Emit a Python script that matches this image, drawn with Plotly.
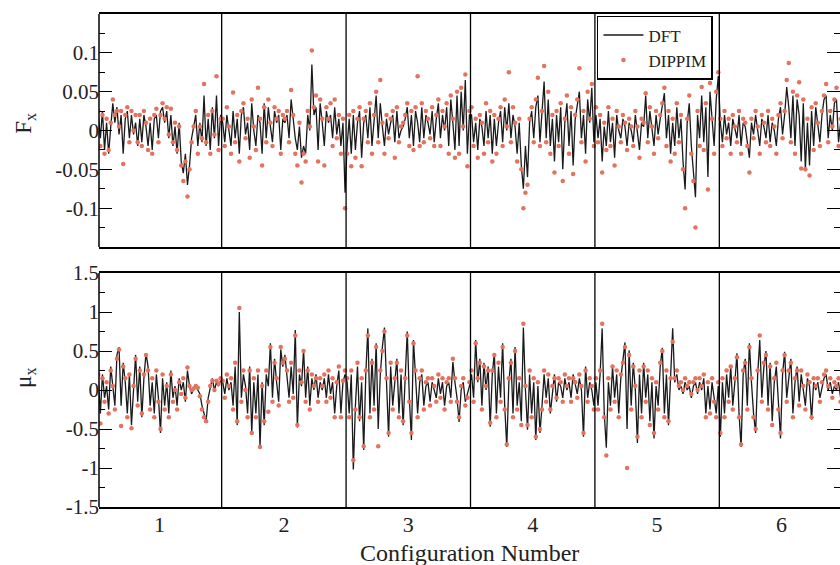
import plotly.graph_objects as go

# ---------------- data ----------------
configs = [1, 2, 3, 4, 5, 6]
config_labels = ["1", "2", "3", "4", "5", "6"]

# F_x : DFT reference forces, one sub-list per configuration
fx_dft = [
    [0.02, -0.01, 0.025, -0.025, 0.01, -0.03, 0.005, 0.035, 0.01, 0.03,
     -0.005, 0.02, -0.03, 0.015, 0.025, -0.01, 0.02, -0.005, 0.01, -0.02,
     0.015, -0.015, 0.02, 0.005, -0.02, 0.01, -0.025, 0.015, 0.02, -0.01,
     0.025, 0.03, 0.01, 0.025, -0.01, 0.02, -0.02, 0.005, -0.03, 0.01,
     -0.04, -0.055, -0.03, -0.07, -0.045, -0.01, 0.005, 0.02, -0.02, 0.01,
     -0.015, 0.045, -0.02, 0.015, -0.025, 0.03, -0.01, 0.045, -0.02, 0.02],
    [0.01, -0.015, 0.02, 0.0, -0.02, 0.025, -0.01, 0.015, -0.03, 0.02,
     0.03, -0.005, 0.01, -0.025, 0.035, 0.0, -0.02, 0.02, 0.01, -0.03,
     0.035, -0.01, 0.03, 0.005, -0.015, 0.025, 0.01, 0.02, -0.025, 0.015,
     0.01, 0.02, -0.01, 0.04, 0.015, -0.01, -0.025, 0.005, -0.035, -0.02,
     -0.03, 0.02, 0.0, 0.085, 0.02, 0.03, -0.025, 0.035, 0.01, -0.02,
     0.025, 0.01, 0.02, -0.01, 0.03, -0.005, 0.015, -0.02, 0.01, -0.08],
    [-0.02, 0.015, -0.03, 0.02, -0.025, 0.01, 0.025, -0.035, 0.01, 0.02,
     -0.01, 0.03, -0.02, 0.015, 0.045, -0.01, 0.035, 0.005, -0.02, 0.015,
     -0.005, 0.01, 0.02, -0.015, 0.025, -0.01, 0.0, 0.005, 0.015, 0.03,
     -0.01, 0.02, -0.02, 0.025, 0.01, -0.015, 0.03, -0.01, 0.02, 0.01,
     -0.005, 0.025, -0.015, 0.015, 0.035, -0.01, 0.02, 0.0, 0.03, -0.02,
     0.04, 0.01, -0.025, 0.045, -0.02, 0.05, 0.0, 0.065, -0.03, 0.02],
    [0.02, -0.015, 0.01, -0.025, 0.015, 0.005, -0.02, 0.025, -0.01, 0.02,
     -0.03, 0.015, -0.02, 0.01, 0.025, -0.015, 0.03, 0.0, 0.035, -0.01,
     0.02, 0.005, -0.03, 0.01, -0.045, -0.075, -0.02, -0.06, 0.01, 0.025,
     -0.01, 0.03, 0.045, -0.015, 0.02, 0.063, -0.01, 0.04, -0.02, 0.015,
     -0.04, 0.02, -0.015, 0.03, -0.05, 0.01, 0.035, -0.02, 0.025, -0.045,
     0.015, 0.03, 0.05, -0.01, 0.02, -0.03, 0.04, 0.01, 0.055, -0.015],
    [0.02, -0.01, 0.015, -0.04, 0.005, -0.02, 0.025, -0.015, 0.01, -0.035,
     0.02, 0.0, -0.01, 0.015, 0.005, -0.02, 0.01, 0.0, -0.015, 0.02,
     0.0, -0.025, 0.01, 0.005, 0.045, -0.01, 0.025, 0.0, -0.02, 0.02,
     -0.005, 0.015, 0.03, 0.048, -0.01, 0.02, -0.03, 0.01, -0.02, 0.03,
     -0.01, 0.015, -0.04, -0.076, 0.01, 0.035, -0.02, -0.05, -0.086, 0.02,
     -0.01, 0.045, -0.015, 0.03, -0.06, 0.05, 0.01, -0.02, 0.04, 0.07],
    [0.01, -0.015, 0.02, -0.005, 0.01, -0.02, 0.015, 0.0, -0.01, 0.02,
     -0.02, 0.01, 0.005, -0.015, -0.035, 0.01, -0.005, 0.02, 0.0, -0.02,
     0.015, 0.005, -0.01, 0.02, -0.015, 0.01, 0.0, -0.02, 0.015, 0.03,
     -0.005, 0.02, 0.056, 0.03, -0.01, 0.045, -0.02, 0.04, 0.02, -0.04,
     0.035, -0.05, 0.01, -0.045, 0.025, -0.02, 0.03, 0.005, -0.015, 0.02,
     0.04, 0.045, -0.01, 0.02, 0.0, 0.035, 0.04, -0.015, 0.01, 0.0],
]

# F_x : DIPPIM model forces
fx_dippim = [
    [0.025, -0.02, 0.02, -0.03, 0.015, -0.025, 0.01, 0.04, 0.02, 0.025,
     0.005, 0.025, -0.043, 0.02, 0.03, -0.015, 0.025, 0.0, 0.02, -0.015,
     0.02, -0.02, 0.025, 0.01, -0.025, 0.015, -0.03, 0.02, 0.028, -0.015,
     0.02, 0.035, 0.015, 0.03, -0.005, 0.028, -0.015, 0.01, -0.025, 0.005,
     -0.045, -0.065, -0.04, -0.085, -0.05, -0.015, 0.005, 0.025, -0.03, 0.005,
     -0.01, 0.06, -0.015, 0.02, -0.03, 0.025, -0.005, 0.07, -0.025, 0.015],
    [0.015, -0.02, 0.03, 0.005, -0.03, 0.049, -0.015, 0.02, -0.04, 0.025,
     0.035, -0.01, 0.015, -0.035, 0.04, 0.005, -0.025, 0.055, 0.015, -0.045,
     0.03, -0.015, 0.04, 0.01, -0.02, 0.03, 0.015, 0.025, -0.03, 0.02,
     0.015, 0.025, -0.015, 0.052, 0.02, -0.03, -0.045, 0.01, -0.067, -0.03,
     -0.04, 0.025, 0.005, 0.103, 0.03, 0.045, -0.04, 0.04, 0.015, -0.045,
     0.03, 0.015, 0.035, -0.02, 0.04, -0.01, 0.02, -0.03, 0.015, -0.1],
    [-0.03, 0.02, -0.046, 0.025, -0.035, 0.015, 0.03, -0.046, 0.015, 0.025,
     -0.015, 0.035, -0.03, 0.02, 0.05, -0.015, 0.065, 0.01, -0.03, 0.02,
     -0.01, 0.015, 0.025, -0.035, 0.03, -0.015, 0.005, 0.01, 0.02, 0.035,
     -0.02, 0.025, -0.025, 0.03, 0.07, -0.02, 0.035, -0.015, 0.025, 0.015,
     -0.01, 0.03, -0.02, 0.02, 0.04, -0.02, 0.025, 0.005, 0.035, -0.03,
     0.045, 0.015, -0.035, 0.05, -0.03, 0.055, 0.005, 0.072, -0.046, 0.025],
    [0.03, -0.02, 0.015, -0.035, 0.02, 0.01, -0.03, 0.035, -0.015, 0.025,
     -0.04, 0.02, -0.03, 0.015, 0.03, -0.02, 0.04, 0.005, 0.075, -0.015,
     0.03, 0.01, -0.04, 0.015, -0.05, -0.1, -0.08, -0.07, 0.015, 0.03,
     -0.015, 0.04, 0.068, -0.02, 0.025, 0.083, -0.015, 0.05, -0.03, 0.02,
     -0.054, 0.025, -0.02, 0.035, -0.065, 0.015, 0.045, -0.03, 0.03, -0.056,
     0.02, 0.04, 0.08, -0.015, 0.025, -0.04, 0.05, 0.015, 0.06, -0.02],
    [0.03, -0.015, 0.02, -0.054, 0.01, -0.025, 0.03, -0.02, 0.015, -0.045,
     0.025, 0.005, -0.015, 0.02, 0.01, -0.025, 0.015, 0.005, -0.02, 0.025,
     0.005, -0.035, 0.015, 0.01, 0.048, -0.015, 0.03, 0.005, -0.03, 0.025,
     -0.01, 0.02, 0.035, 0.055, -0.02, 0.025, -0.04, 0.015, -0.03, 0.035,
     -0.015, 0.02, -0.05, -0.1, 0.015, 0.045, -0.03, -0.065, -0.125, 0.025,
     -0.02, 0.056, -0.025, 0.035, -0.076, 0.061, 0.015, -0.03, 0.05, 0.075],
    [0.015, -0.02, 0.025, -0.01, 0.015, -0.03, 0.02, 0.005, -0.015, 0.025,
     -0.03, 0.015, 0.01, -0.02, -0.054, 0.015, -0.01, 0.025, 0.005, -0.03,
     0.02, 0.01, -0.015, 0.025, -0.02, 0.015, 0.005, -0.03, 0.02, 0.035,
     -0.01, 0.025, 0.065, 0.087, -0.015, 0.05, -0.03, 0.045, 0.062, -0.049,
     0.04, -0.05, 0.015, -0.058, 0.03, -0.025, 0.035, 0.01, -0.02, 0.025,
     0.045, 0.06, -0.015, 0.025, 0.005, 0.04, 0.055, -0.02, 0.015, 0.005],
]

# mu_x : DFT dipoles
mu_dft = [
    [0.15, -0.3, 0.2, -0.1, 0.05, -0.25, 0.3, 0.0, -0.2, 0.45,
     0.55, -0.2, 0.35, 0.1, -0.3, 0.2, -0.45, 0.0, 0.45, -0.15,
     0.3, -0.35, 0.15, 0.47, 0.3, -0.2, 0.1, -0.3, 0.2, -0.1,
     -0.55, 0.15, -0.2, 0.1, -0.3, 0.25, -0.1, 0.05, -0.2, 0.15,
     0.0, 0.1, -0.15, 0.25, 0.05, -0.05, 0.02, 0.05, 0.0, -0.05,
     -0.2, -0.3, -0.4, -0.1, 0.05, 0.15, 0.0, 0.1, 0.05, 0.12],
    [0.1, -0.05, 0.15, 0.0, 0.1, -0.2, 0.3, -0.45, 1.0, -0.1,
     0.2, 0.05, -0.3, 0.3, -0.55, 0.1, -0.3, 0.2, -0.73, 0.1,
     -0.45, 0.2, 0.05, 0.6, -0.1, 0.4, 0.1, -0.15, 0.52, 0.3,
     0.45, 0.2, -0.1, 0.3, -0.05, 0.77, -0.48, 0.2, 0.05, 0.52,
     -0.1, 0.3, -0.2, 0.15, 0.0, 0.2, -0.1, 0.1, 0.0, 0.15,
     -0.1, 0.2, -0.05, 0.1, -0.3, 0.05, 0.25, -0.3, 0.1, 0.2],
    [0.1, -0.3, 0.2, -1.02, -0.2, 0.3, -0.4, 0.1, -0.77, 0.2,
     0.79, -0.3, 0.4, -0.2, 0.6, -0.5, 0.2, 0.55, 0.8, 0.1,
     -0.6, 0.3, -0.2, 0.1, 0.4, -0.3, 0.2, -0.45, 0.1, 0.75,
     -0.1, -0.64, 0.64, 0.2, -0.3, 0.1, 0.2, -0.2, 0.05, 0.1,
     -0.15, 0.1, 0.0, -0.1, 0.15, -0.05, 0.1, -0.2, 0.05, 0.1,
     -0.1, 0.36, 0.1, -0.1, -0.41, 0.0, 0.1, -0.15, -0.05, 0.05],
    [0.2, -0.1, 0.64, 0.1, 0.4, -0.2, 0.35, 0.0, 0.3, -0.47,
     0.2, 0.47, -0.3, 0.3, -0.1, 0.6, -0.2, -0.73, 0.1, 0.4,
     -0.3, 0.55, -0.2, 0.1, -0.4, 0.8, 0.0, -0.51, 0.2, -0.3,
     0.1, -0.64, 0.05, -0.55, -0.2, 0.2, -0.1, 0.15, -0.3, 0.0,
     0.2, -0.15, 0.1, 0.05, -0.1, 0.15, 0.0, 0.1, -0.1, 0.2,
     0.05, -0.05, 0.15, 0.0, -0.6, 0.3, -0.1, 0.1, 0.0, -0.2],
    [0.1, -0.2, 0.2, 0.79, -0.3, -0.74, 0.1, -0.2, 0.3, -0.1,
     0.2, -0.3, 0.15, 0.4, 0.61, -0.5, 0.51, -0.2, 0.35, 0.0,
     -0.68, 0.2, -0.3, 0.35, -0.1, 0.2, -0.4, 0.1, -0.62, 0.05,
     -0.2, 0.3, 0.54, -0.3, 0.2, -0.45, 0.1, 0.79, 0.1, 0.2,
     0.0, 0.05, -0.05, 0.1, 0.0, 0.05, -0.1, 0.05, 0.1, -0.05,
     0.1, 0.0, 0.15, -0.3, 0.05, -0.25, 0.1, -0.1, -0.3, 0.05],
    [-0.6, 0.1, -0.3, 0.2, -0.1, 0.3, -0.2, 0.1, 0.47, -0.3,
     -0.73, 0.2, 0.4, -0.2, 0.6, 0.1, -0.3, -0.55, 0.2, 0.64,
     -0.1, 0.3, 0.5, -0.2, 0.35, -0.4, 0.1, 0.3, -0.2, -0.62,
     0.2, 0.49, -0.1, 0.2, 0.4, -0.3, 0.1, 0.3, -0.15, 0.2,
     0.0, -0.2, 0.15, 0.05, -0.38, 0.1, 0.0, 0.1, -0.1, 0.05,
     0.15, 0.2, 0.0, 0.1, -0.05, 0.05, 0.0, 0.1, -0.1, 0.05],
]

# mu_x : DIPPIM dipoles
mu_dippim = [
    [0.2, -0.43, 0.15, -0.15, 0.1, -0.3, 0.25, 0.05, -0.25, 0.4,
     0.52, -0.46, 0.3, 0.15, -0.35, 0.2, -0.49, 0.05, 0.4, -0.2,
     0.25, -0.3, 0.2, 0.45, 0.25, -0.25, 0.15, -0.35, 0.25, -0.15,
     -0.5, 0.2, -0.25, 0.05, -0.35, 0.2, -0.15, 0.0, -0.25, 0.1,
     -0.05, 0.15, -0.1, 0.29, 0.05, 0.0, 0.02, 0.05, 0.03, -0.08,
     -0.25, -0.35, -0.4, -0.15, 0.05, 0.12, 0.0, 0.12, 0.08, 0.15],
    [0.12, -0.1, 0.2, 0.05, 0.15, -0.25, 0.35, -0.4, 1.05, -0.15,
     0.25, 0.0, -0.35, 0.25, -0.55, 0.15, -0.35, 0.25, -0.73, 0.05,
     -0.4, 0.25, -0.28, 0.55, -0.15, 0.35, 0.15, -0.2, 0.55, 0.35,
     0.4, 0.25, -0.15, 0.35, -0.1, 0.7, -0.45, 0.25, 0.1, 0.5,
     -0.15, 0.25, -0.25, 0.2, 0.05, 0.15, -0.15, 0.15, 0.05, 0.2,
     -0.15, 0.25, -0.1, 0.15, -0.35, 0.1, 0.3, -0.35, 0.12, 0.25],
    [0.15, -0.35, 0.25, -0.9, -0.25, 0.35, -0.35, 0.15, -0.72, 0.25,
     0.7, -0.35, 0.35, -0.25, 0.55, -0.72, 0.25, 0.5, 0.75, 0.15,
     -0.55, 0.35, -0.25, 0.15, 0.35, -0.35, 0.25, -0.4, 0.15, 0.7,
     -0.15, -0.55, 0.6, 0.25, -0.35, 0.15, 0.25, -0.25, 0.1, 0.15,
     -0.2, 0.15, 0.05, -0.15, 0.2, -0.1, 0.15, -0.25, 0.1, 0.15,
     -0.15, 0.4, 0.15, -0.15, -0.35, 0.05, 0.15, -0.2, -0.1, 0.1],
    [0.25, -0.15, 0.6, 0.15, 0.35, -0.25, 0.3, 0.05, 0.25, -0.42,
     0.25, 0.45, -0.35, 0.35, -0.15, 0.55, -0.25, -0.7, 0.15, 0.35,
     -0.35, 0.5, -0.25, 0.15, -0.45, 0.85, 0.05, -0.45, 0.25, -0.35,
     0.15, -0.6, 0.1, -0.5, -0.25, 0.25, -0.15, 0.2, -0.25, 0.05,
     0.15, -0.1, 0.15, 0.1, -0.15, 0.2, 0.05, 0.15, -0.15, 0.15,
     0.1, -0.1, 0.2, 0.05, -0.55, 0.25, -0.15, 0.15, 0.05, -0.25],
    [0.15, -0.25, 0.25, 0.85, -0.35, -0.84, 0.15, -0.25, 0.3, -0.15,
     0.25, -0.35, 0.2, 0.35, 0.55, -1.0, 0.45, -0.25, 0.3, 0.05,
     -0.6, 0.25, -0.35, 0.3, -0.15, 0.25, -0.45, 0.15, -0.55, 0.1,
     -0.25, 0.35, 0.5, -0.35, 0.25, -0.4, 0.15, 0.62, 0.15, 0.25,
     0.05, 0.1, 0.0, 0.15, 0.05, 0.1, -0.05, 0.1, 0.15, 0.0,
     0.15, 0.05, 0.2, -0.35, 0.1, -0.3, 0.15, -0.15, -0.35, 0.1],
    [-0.55, 0.15, -0.35, 0.25, -0.15, 0.3, -0.25, 0.15, 0.42, -0.35,
     -0.7, 0.25, 0.35, -0.25, 0.55, 0.15, -0.35, -0.5, 0.25, 0.7,
     -0.15, 0.35, 0.45, -0.25, 0.3, -0.45, 0.15, 0.35, -0.25, -0.55,
     0.25, 0.45, -0.15, 0.25, 0.35, -0.35, 0.15, 0.25, -0.2, 0.25,
     0.05, -0.25, 0.2, 0.1, -0.35, 0.15, 0.05, 0.15, -0.15, 0.1,
     0.2, 0.25, 0.05, 0.15, -0.1, 0.1, 0.05, 0.15, -0.15, 0.1],
]

fx_ticks = [-0.1, -0.05, 0, 0.05, 0.1]
fx_ticktext = ["-0.1", "-0.05", "0", "0.05", "0.1"]
mu_ticks = [-1.5, -1, -0.5, 0, 0.5, 1, 1.5]
mu_ticktext = ["-1.5", "-1", "-0.5", "0", "0.5", "1", "1.5"]


# ---------------- helpers ----------------
def positions(series):
    """Atom positions: each configuration occupies [k-0.5, k+0.5]."""
    xs, ys = [], []
    for k, vals in zip(configs, series):
        n = len(vals)
        xs += [k - 0.5 + (i + 0.5) / n for i in range(n)]
        ys += list(vals)
    return xs, ys


FONT = "Liberation Serif, DejaVu Serif, serif"
TXT = "#222222"
LINE_COLOR = "#1a1a1a"
DOT_COLOR = "#e2735f"

fig = go.Figure()

x, y = positions(fx_dft)
fig.add_trace(go.Scatter(x=x, y=y, mode="lines", name="DFT",
                         line=dict(color=LINE_COLOR, width=1.3),
                         xaxis="x", yaxis="y"))
x, y = positions(fx_dippim)
fig.add_trace(go.Scatter(x=x, y=y, mode="markers", name="DIPPIM",
                         marker=dict(color=DOT_COLOR, size=4.5),
                         xaxis="x", yaxis="y"))
x, y = positions(mu_dft)
fig.add_trace(go.Scatter(x=x, y=y, mode="lines", name="DFT", showlegend=False,
                         line=dict(color=LINE_COLOR, width=1.3),
                         xaxis="x2", yaxis="y2"))
x, y = positions(mu_dippim)
fig.add_trace(go.Scatter(x=x, y=y, mode="markers", name="DIPPIM", showlegend=False,
                         marker=dict(color=DOT_COLOR, size=4.5),
                         xaxis="x2", yaxis="y2"))

XR = [0.514, 6.47]
common_x = dict(range=XR, showgrid=False, zeroline=False, showline=True,
                mirror=True, linecolor="black", linewidth=1.5, ticks="")
common_y = dict(showgrid=False, zeroline=False, showline=False, mirror="ticks",
                ticks="inside", ticklen=13, tickwidth=1.3, tickcolor="black",
                ticklabelstandoff=-1,
                tickfont=dict(family=FONT, size=21, color=TXT))

fig.update_layout(
    width=840, height=565,
    margin=dict(l=99, r=0, t=14, b=58),
    paper_bgcolor="white", plot_bgcolor="white",
    font=dict(family=FONT, color=TXT),
    xaxis=dict(domain=[0, 1], anchor="y", showticklabels=False, **common_x),
    xaxis2=dict(domain=[0, 1], anchor="y2", tickmode="array", tickvals=configs,
                ticktext=config_labels, ticklabelstandoff=-3,
                tickfont=dict(family=FONT, size=22, color=TXT),
                **common_x),
    yaxis=dict(domain=[0.5274, 1], anchor="x", range=[-0.15, 0.15],
               tickmode="array", tickvals=fx_ticks, ticktext=fx_ticktext,
               minor=dict(ticks="inside", ticklen=6, dtick=0.025, tick0=0,
                          tickcolor="black", tickwidth=1.2),
               **common_y),
    yaxis2=dict(domain=[0, 0.4746], anchor="x2", range=[-1.5, 1.5],
                tickmode="array", tickvals=mu_ticks, ticktext=mu_ticktext,
                minor=dict(ticks="inside", ticklen=6, dtick=0.25, tick0=0,
                           tickcolor="black", tickwidth=1.2),
                **common_y),
    legend=dict(x=0.672, y=0.996, xanchor="left", yanchor="top",
                bgcolor="white", bordercolor="black", borderwidth=1.5,
                font=dict(family=FONT, size=17, color=TXT),
                tracegroupgap=0, itemwidth=40),
    showlegend=True,
)

# configuration separators and left frame edges
shapes = []
for yref in ["y domain", "y2 domain"]:
    xref = "x" if yref == "y domain" else "x2"
    for k in configs[:-1]:
        shapes.append(dict(type="line", xref=xref, yref=yref, x0=k + 0.5, x1=k + 0.5,
                           y0=0, y1=1, line=dict(color="black", width=1.3)))
    shapes.append(dict(type="line", xref=xref + " domain", yref=yref, x0=0, x1=0,
                       y0=0, y1=1, line=dict(color="black", width=1.5)))
fig.update_layout(shapes=shapes)

fig.add_annotation(text="F<sub>x</sub>", xref="paper", yref="paper",
                   x=-0.1, y=0.779, xanchor="center", yanchor="middle",
                   textangle=-90, showarrow=False,
                   font=dict(family=FONT, size=23, color=TXT))
fig.add_annotation(text="μ<sub>x</sub>", xref="paper", yref="paper",
                   x=-0.1, y=0.2617, xanchor="center", yanchor="middle",
                   textangle=-90, showarrow=False,
                   font=dict(family=FONT, size=23, color=TXT))
fig.add_annotation(text="Configuration Number", xref="paper", yref="paper",
                   x=0.5, y=-0.093, xanchor="center", yanchor="middle",
                   showarrow=False,
                   font=dict(family=FONT, size=24, color=TXT))

fig.write_html("out.html")
